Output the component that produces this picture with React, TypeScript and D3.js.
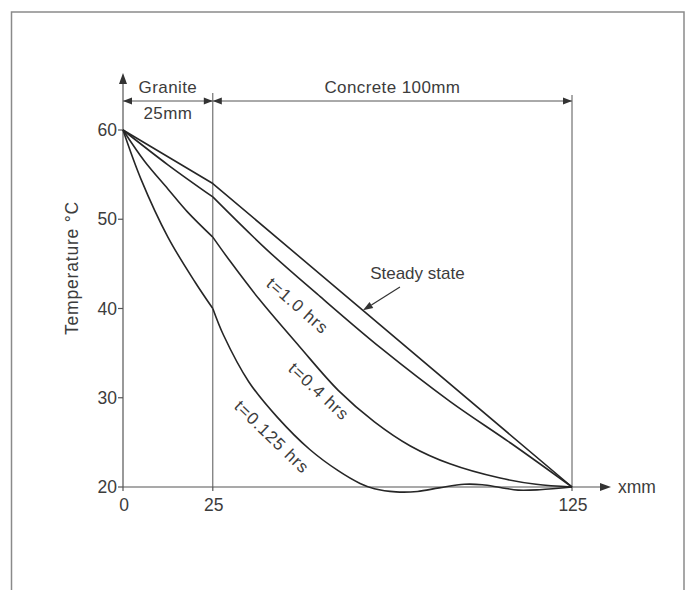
import React from "react";
import * as d3 from "d3";

type Pt = [number, number];

// x in mm, y in °C
const steadyState: Pt[] = [[0, 60], [25, 54], [125, 20]];
const t10Granite: Pt[] = [[0, 60], [12.5, 56.1], [25, 52.5]];
const t10Concrete: Pt[] = [[25, 52.5], [40, 46.6], [55, 41.3], [72, 35.5], [91, 29.6], [108, 24.9], [125, 20]];
const t04Granite: Pt[] = [[0, 60], [6, 56.5], [12.5, 53.4], [18, 50.8], [25, 48]];
const t04Concrete: Pt[] = [[25, 48], [30, 45.2], [38, 41], [49, 35.8], [60, 30.8], [70, 27.3], [80, 24.6], [91, 22.6], [105, 21.0], [115, 20.3], [125, 20]];
const t0125Granite: Pt[] = [[0, 60], [5, 54.5], [12.5, 48], [20, 43], [25, 40]];
const t0125Concrete: Pt[] = [[25, 40], [28, 37], [35, 31.8], [43, 27.8], [52, 24.2], [60, 21.8], [66, 20.4], [70, 19.8], [76, 19.45], [82, 19.5], [88, 19.9], [95, 20.3], [100, 20.25], [105, 19.95], [110, 19.65], [116, 19.7], [125, 20]];

const yTicks = [20, 30, 40, 50, 60];
const xTicks = [0, 25, 125];

const curveLabels = [
  { text: "t=1.0 hrs", x: 48.4, y: 40.2, angle: 41 },
  { text: "t=0.4 hrs", x: 54.3, y: 30.6, angle: 43 },
  { text: "t=0.125 hrs", x: 41.2, y: 25.5, angle: 44 },
];

export default function App() {
  const x = d3.scaleLinear().domain([0, 125]).range([123, 572]);
  const y = d3.scaleLinear().domain([20, 60]).range([487, 130]);

  const smooth = d3
    .line<Pt>()
    .x((d) => x(d[0]))
    .y((d) => y(d[1]))
    .curve(d3.curveCatmullRom.alpha(0.5));
  const straight = d3
    .line<Pt>()
    .x((d) => x(d[0]))
    .y((d) => y(d[1]));

  const font = "'Liberation Sans', Arial, Helvetica, sans-serif";
  const textColor = "#3c3c3c";
  const curveColor = "#262626";
  const thin = "#555";

  const dimY = 101;
  const arrowR = (xp: number, yp: number) => `M${xp},${yp} L${xp - 9},${yp - 3.5} L${xp - 9},${yp + 3.5} Z`;
  const arrowL = (xp: number, yp: number) => `M${xp},${yp} L${xp + 9},${yp - 3.5} L${xp + 9},${yp + 3.5} Z`;

  const curves = [
    straight(steadyState),
    smooth(t10Granite),
    smooth(t10Concrete),
    smooth(t04Granite),
    smooth(t04Concrete),
    smooth(t0125Granite),
    smooth(t0125Concrete),
  ];

  const ssStart: Pt = [77.1, 42.4];
  const ssEnd: Pt = [66.8, 39.8];
  const ax1 = x(ssStart[0]), ay1 = y(ssStart[1]), ax2 = x(ssEnd[0]), ay2 = y(ssEnd[1]);
  const ang = Math.atan2(ay2 - ay1, ax2 - ax1);
  const headLen = 10, headW = 3.5;
  const hx = ax2 - headLen * Math.cos(ang), hy = ay2 - headLen * Math.sin(ang);
  const ssHead = `M${ax2},${ay2} L${hx + headW * Math.sin(ang)},${hy - headW * Math.cos(ang)} L${hx - headW * Math.sin(ang)},${hy + headW * Math.cos(ang)} Z`;

  return (
    <svg
      width={687}
      height={590}
      style={{ position: "absolute", left: 0, top: 0, background: "#fff" }}
      fontFamily={font}
    >
      <rect x={11.5} y={12} width={672.5} height={600} fill="none" stroke="#8a8a8a" strokeWidth={1.5} />

      {/* Dimension lines */}
      <line x1={x(0)} x2={x(25)} y1={dimY} y2={dimY} stroke={thin} strokeWidth={1} />
      <path d={arrowL(x(0), dimY)} fill="#333" />
      <path d={arrowR(x(25), dimY)} fill="#333" />
      <line x1={x(25)} x2={x(125)} y1={dimY} y2={dimY} stroke={thin} strokeWidth={1} />
      <path d={arrowL(x(25), dimY)} fill="#333" />
      <path d={arrowR(x(125), dimY)} fill="#333" />
      <line x1={x(25)} x2={x(25)} y1={93} y2={y(20)} stroke={thin} strokeWidth={1} />
      <line x1={x(125)} x2={x(125)} y1={95} y2={y(20)} stroke={thin} strokeWidth={1} />

      <text x={(x(0) + x(25)) / 2} y={93} textAnchor="middle" fontSize={17} fill={textColor} letterSpacing={0.4}>Granite</text>
      <text x={(x(0) + x(25)) / 2} y={119} textAnchor="middle" fontSize={17} fill={textColor} letterSpacing={0.4}>25mm</text>
      <text x={(x(25) + x(125)) / 2} y={93} textAnchor="middle" fontSize={17} fill={textColor} letterSpacing={0.4}>Concrete 100mm</text>

      {/* Y axis */}
      <line x1={x(0)} x2={x(0)} y1={y(20)} y2={80} stroke={thin} strokeWidth={1.2} />
      <path d={`M${x(0)},73 L${x(0) - 4},84 L${x(0) + 4},84 Z`} fill="#333" />
      {yTicks.map((t) => (
        <g key={t}>
          <line x1={x(0) - 5} x2={x(0)} y1={y(t)} y2={y(t)} stroke={thin} strokeWidth={1.2} />
          <text x={x(0) - 6} y={y(t) + 6} textAnchor="end" fontSize={17.5} fill={textColor}>{t}</text>
        </g>
      ))}
      <text
        transform={`translate(78, 268) rotate(-90)`}
        textAnchor="middle"
        fontSize={17.5}
        fill={textColor}
        letterSpacing={0.8}
      >
        Temperature °C
      </text>

      {/* X axis */}
      <line x1={x(0)} x2={603} y1={y(20)} y2={y(20)} stroke={thin} strokeWidth={1.2} />
      <path d={`M611,${y(20)} L600,${y(20) - 4} L600,${y(20) + 4} Z`} fill="#333" />
      <text x={618} y={y(20) + 6} fontSize={17.5} fill={textColor}>xmm</text>
      {xTicks.map((t) => (
        <g key={t}>
          <line x1={x(t)} x2={x(t)} y1={y(20)} y2={y(20) + 4} stroke={thin} strokeWidth={1.2} />
          <text x={x(t) + 1} y={y(20) + 24} textAnchor="middle" fontSize={17.5} fill={textColor}>{t}</text>
        </g>
      ))}

      {/* Curves */}
      {curves.map((d, i) => (
        <path key={i} d={d || ""} fill="none" stroke={curveColor} strokeWidth={1.6} strokeLinejoin="round" />
      ))}

      {/* Labels */}
      {curveLabels.map((l) => (
        <text
          key={l.text}
          transform={`translate(${x(l.x)}, ${y(l.y)}) rotate(${l.angle})`}
          textAnchor="middle"
          dominantBaseline="middle"
          fontSize={17}
          letterSpacing={1}
          fill={textColor}
        >
          {l.text}
        </text>
      ))}
      <text x={x(68.8)} y={y(43.3)} fontSize={17} fill={textColor}>Steady state</text>
      <line x1={ax1} y1={ay1} x2={hx} y2={hy} stroke="#333" strokeWidth={1.2} />
      <path d={ssHead} fill="#333" />
    </svg>
  );
}
